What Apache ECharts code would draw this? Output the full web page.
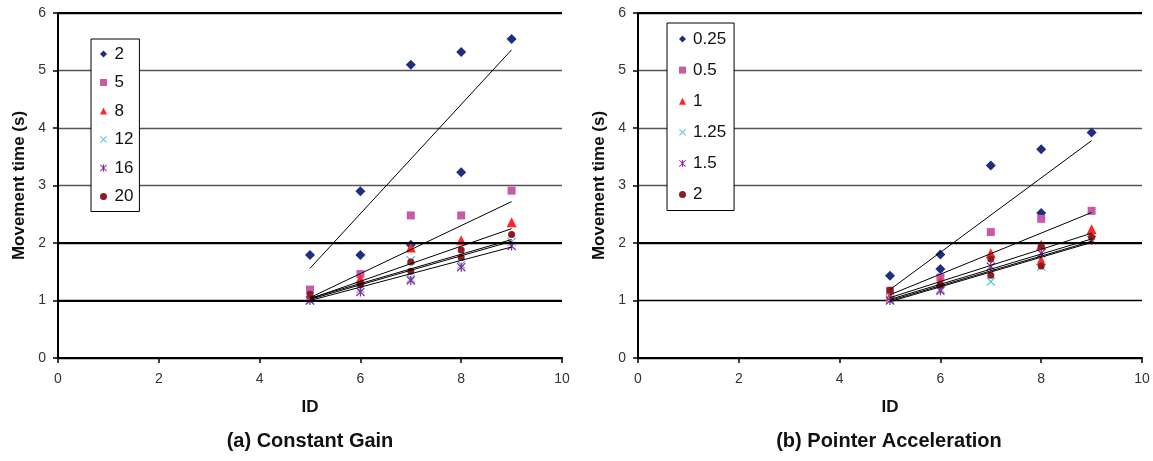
<!DOCTYPE html>
<html>
<head>
<meta charset="utf-8">
<script src="https://cdn.jsdelivr.net/npm/echarts@6/dist/echarts.min.js"></script>
<style>
html,body{margin:0;padding:0;background:#fff;}
#chart{width:1153px;height:461px;}
</style>
</head>
<body>
<div id="chart"></div>
<script>
// ---------- DATA ----------
const xTicks = [0, 2, 4, 6, 8, 10];
const yTicks = [0, 1, 2, 3, 4, 5, 6];

// (a) Constant Gain — series names
const namesA = ['2', '5', '8', '12', '16', '20'];
const a2  = [[5,1.79],[6,1.79],[6,2.90],[7,1.97],[7,5.10],[8,3.23],[8,5.32],[9,5.55]];
const a5  = [[5,1.19],[6,1.46],[7,2.48],[8,2.48],[9,2.91]];
const a8  = [[5,1.06],[6,1.38],[7,1.92],[8,2.05],[9,2.36]];
const a12 = [[5,1.00],[6,1.20],[7,1.70],[7,1.38],[8,1.62],[9,2.02]];
const a16 = [[5,1.00],[6,1.15],[7,1.35],[8,1.58],[9,1.95]];
const a20 = [[5,1.11],[6,1.28],[7,1.67],[7,1.51],[8,1.88],[8,1.75],[9,2.15]];
// (a) trend lines (start/end values)
const tA2  = [[5,1.56],[9,5.36]];
const tA5  = [[5,1.05],[9,2.72]];
const tA8  = [[5,1.03],[9,2.25]];
const tA12 = [[5,1.02],[9,2.03]];
const tA16 = [[5,1.00],[9,1.93]];
const tA20 = [[5,1.04],[9,2.06]];

// (b) Pointer Acceleration — series names
const namesB = ['0.25', '0.5', '1', '1.25', '1.5', '2'];
const b025 = [[5,1.43],[6,1.55],[6,1.80],[7,3.35],[8,2.52],[8,3.63],[9,3.92]];
const b05  = [[5,1.17],[6,1.40],[7,2.19],[8,2.42],[9,2.56]];
const b1   = [[5,1.07],[6,1.33],[7,1.82],[8,1.97],[8,1.70],[9,2.24]];
const b125 = [[5,1.02],[6,1.20],[7,1.33],[8,1.59],[9,2.05]];
const b15  = [[5,1.00],[6,1.17],[7,1.59],[8,1.82],[9,2.05]];
const b2   = [[5,1.18],[6,1.27],[7,1.72],[7,1.44],[8,1.95],[8,1.60],[9,2.10]];
// (b) trend lines
const tB025 = [[5,1.19],[9,3.78]];
const tB05  = [[5,1.10],[9,2.53]];
const tB1   = [[5,1.05],[9,2.17]];
const tB125 = [[5,1.00],[9,2.03]];
const tB15  = [[5,0.98],[9,2.01]];
const tB2   = [[5,1.02],[9,2.07]];

const thickA = [1, 2, 6];
const thickB = [2, 6];

// ---------- STYLE ----------
const FONT = '"Liberation Sans", Arial, sans-serif';
const X_PATH = 'path://M0,1 L1,0 L5,4 L9,0 L10,1 L6,5 L10,9 L9,10 L5,6 L1,10 L0,9 L4,5 Z';
const STAR_PATH = 'path://M0,1 L1,0 L5,4 L9,0 L10,1 L6,5 L10,9 L9,10 L5,6 L1,10 L0,9 L4,5 Z M4.3,0 L5.7,0 L5.7,10 L4.3,10 Z';
const markers = [
  {symbol:'diamond',  size:10, color:'#1E2F80'},
  {symbol:'rect',     size:8,  color:'#C75BA9'},
  {symbol:'triangle', size:10, color:'#FF2626'},
  {symbol:X_PATH,     size:9,  color:'#58C6DE'},
  {symbol:STAR_PATH,  size:9,  color:'#8C2A98'},
  {symbol:'circle',   size:7,  color:'#8A1C22'}
];

const dataA = [a2, a5, a8, a12, a16, a20];
const trendA = [tA2, tA5, tA8, tA12, tA16, tA20];
const dataB = [b025, b05, b1, b125, b15, b2];
const trendB = [tB025, tB05, tB1, tB125, tB15, tB2];

function axisPair(idx, splitColors) {
  const x = {
    type:'value', gridIndex:idx, min:0, max:10, interval:2,
    name:'ID', nameLocation:'middle', nameGap:41,
    nameTextStyle:{fontFamily:FONT, fontSize:17, fontWeight:'bold', color:'#111'},
    axisLine:{show:true, onZero:false, lineStyle:{color:'#000', width:2}},
    axisTick:{show:true, inside:false, length:5, lineStyle:{color:'#000', width:1.5}},
    axisLabel:{fontFamily:FONT, fontSize:14, color:'#333', margin:14},
    splitLine:{show:false}
  };
  const y = {
    type:'value', gridIndex:idx, min:0, max:6, interval:1,
    name:'Movement time (s)', nameLocation:'middle', nameGap:30, nameRotate:90,
    nameTextStyle:{fontFamily:FONT, fontSize:17, fontWeight:'bold', color:'#111'},
    axisLine:{show:true, lineStyle:{color:'#000', width:2}},
    axisTick:{show:true, inside:false, length:5, lineStyle:{color:'#000', width:1.5}},
    axisLabel:{fontFamily:FONT, fontSize:14, color:'#333', margin:12},
    splitLine:{show:true, lineStyle:{color:splitColors, width:1.3}}
  };
  return [x, y];
}

const [xa, ya] = axisPair(0, ['#000','#000','#000','#555','#555','#555','#000']);
const [xb, yb] = axisPair(1, ['#000','#000','#000','#555','#555','#555','#000']);

const series = [];
function addChart(prefix, names, data, trends, idx, thick) {
  names.forEach((n, i) => {
    const m = markers[i];
    series.push({
      name: prefix + n, type:'scatter', xAxisIndex:idx, yAxisIndex:idx,
      symbol:m.symbol, symbolSize:m.size, symbolKeepAspect:true,
      itemStyle:{color:m.color, opacity:1},
      data: data[i], z:2, silent:true, animation:false
    });
  });
  trends.forEach((t) => {
    series.push({
      type:'line', xAxisIndex:idx, yAxisIndex:idx, data:t,
      showSymbol:false, symbol:'none',
      lineStyle:{color:'#000', width:1}, z:4, silent:true, animation:false
    });
  });
  series.push({
    type:'line', xAxisIndex:idx, yAxisIndex:idx, data:[], silent:true, animation:false,
    markLine:{
      silent:true, symbol:['none','none'], label:{show:false},
      lineStyle:{color:'#000', width:2.2, type:'solid'},
      data: thick.map(v => ({yAxis:v}))
    },
    z:1
  });
}
addChart('a:', namesA, dataA, trendA, 0, thickA);
addChart('b:', namesB, dataB, trendB, 1, thickB);

function legend(prefix, names, left, top, padding, gap, textPad) {
  return {
    orient:'vertical', left:left, top:top, padding:padding, itemGap:gap,
    itemWidth:7, itemHeight:7,
    borderColor:'#000', borderWidth:1, backgroundColor:'#fff',
    data: names.map(n => prefix + n),
    formatter: (name) => name.split(':')[1],
    textStyle:{fontFamily:FONT, fontSize:17, color:'#111', lineHeight:18, padding:[0,0,0,textPad]},
    selectedMode:false
  };
}

const option = {
  animation:false,
  backgroundColor:'#fff',
  grid:[
    {left:58, top:13, width:504, height:345, containLabel:false, outerBoundsMode:'none'},
    {left:638, top:13, width:504, height:345, containLabel:false, outerBoundsMode:'none'}
  ],
  xAxis:[xa, xb],
  yAxis:[ya, yb],
  legend:[
    legend('a:', namesA, 91, 39, [6,6,6,9], 10.5, 2.5),
    legend('b:', namesB, 667, 23, [7,8,7,12], 13.1, 2)
  ],
  graphic:[
    {type:'text', x:310, y:441, style:{text:'(a) Constant Gain', font:'bold 20px ' + FONT, fill:'#111', textAlign:'center', textVerticalAlign:'middle'}},
    {type:'text', x:889, y:441, style:{text:'(b) Pointer Acceleration', font:'bold 20px ' + FONT, fill:'#111', textAlign:'center', textVerticalAlign:'middle'}}
  ],
  series: series
};

const chart = echarts.init(document.getElementById('chart'), null, {renderer:'canvas'});
chart.setOption(option);
</script>
</body>
</html>
